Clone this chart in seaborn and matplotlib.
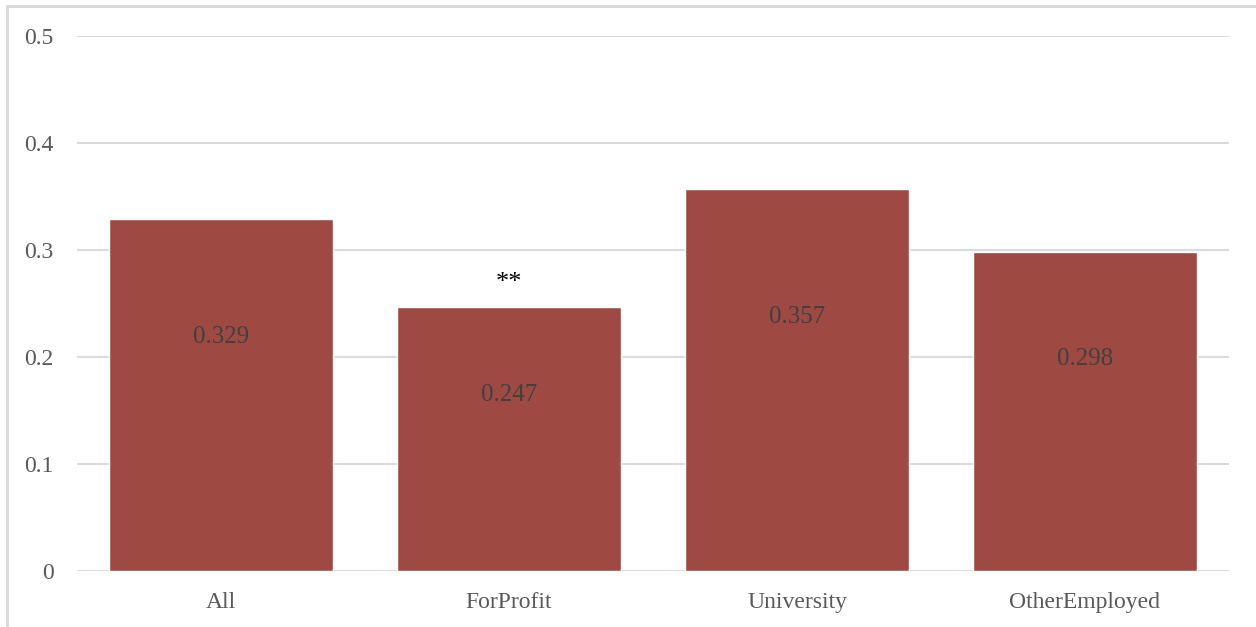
import matplotlib
matplotlib.use("Agg")
import matplotlib.pyplot as plt
import seaborn as sns
import pandas as pd
from matplotlib.patches import Rectangle

# данные
categories = ["All", "ForProfit", "University", "OtherEmployed"]
values = [0.329, 0.247, 0.357, 0.298]
value_labels = ["0.329", "0.247", "0.357", "0.298"]
stars = ["", "**", "", ""]
y_ticks = [0, 0.1, 0.2, 0.3, 0.4, 0.5]
y_tick_labels = ["0", "0.1", "0.2", "0.3", "0.4", "0.5"]

df = pd.DataFrame({"category": categories, "value": values})

sns.set_theme(style="white")
plt.rcParams["font.family"] = ["Liberation Serif", "DejaVu Serif"]

fig = plt.figure(figsize=(12.56, 6.27), dpi=100)
ax = fig.add_axes([0.0613, 0.0893, 0.9172, 0.8533])

sns.barplot(data=df, x="category", y="value", color="#9E4A42",
            saturation=1, width=0.78, ax=ax)

ax.set_ylim(0, 0.5)
ax.set_xlim(-0.5, 3.5)
ax.set_yticks(y_ticks)
ax.set_yticklabels(y_tick_labels)
ax.set_xlabel("")
ax.set_ylabel("")

# сетка
for y in y_ticks:
    ax.axhline(y, color="#d9d9d9", linewidth=1.4, zorder=0)

for s in ax.spines.values():
    s.set_visible(False)
ax.tick_params(axis="both", length=0, labelsize=17, labelcolor="#595959")
ax.tick_params(axis="y", pad=17)
ax.tick_params(axis="x", pad=15)

# подписи значений
for i, (v, lab, st) in enumerate(zip(values, value_labels, stars)):
    ax.text(i, v * 0.665, lab, ha="center", va="center",
            fontsize=18, color="#404040")
    if st:
        ax.text(i, v + 0.022, st, ha="center", va="center",
                fontsize=19, color="#000000")

# рамка
fig.patches.append(Rectangle((7 / 1256, -0.1), 1.2, 1 - 6 / 627 + 0.1,
                             transform=fig.transFigure, fill=False,
                             edgecolor="#d9d9d9", linewidth=2))

plt.savefig("out.png", dpi=100, facecolor="white")
plt.close()
